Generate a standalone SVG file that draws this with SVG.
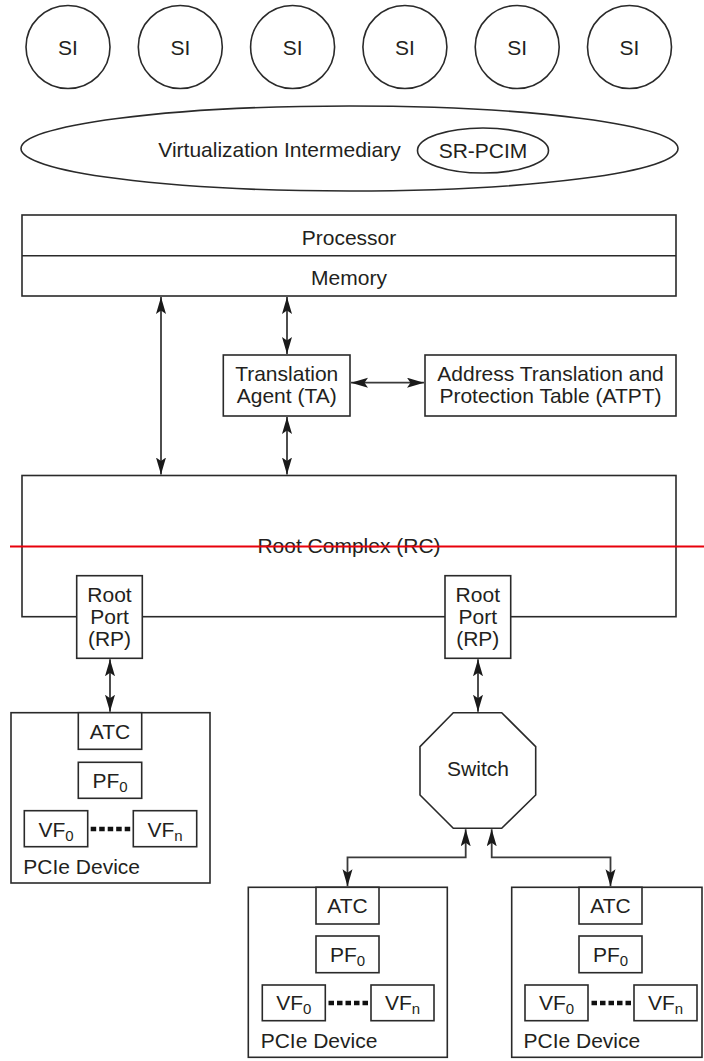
<svg xmlns="http://www.w3.org/2000/svg" width="704" height="1061" viewBox="0 0 704 1061">
<style>
  .s{fill:#fff;stroke:#2a2a2a;stroke-width:1.6}
  .t{font-family:"Liberation Sans",Arial,sans-serif;font-size:21px;fill:#231f20;text-anchor:middle}
  .l{text-anchor:start}
  .sub{font-size:15px}
  .c{fill:none;stroke:#3a3a3a;stroke-width:1.8}
  .dots{fill:none;stroke:#111;stroke-width:4.5;stroke-dasharray:5.5 3}
</style>
<defs>
  <marker id="ah" markerUnits="userSpaceOnUse" markerWidth="19" markerHeight="11" refX="17" refY="5" orient="auto-start-reverse">
    <path d="M0,0 L17,5 L0,10 L3.5,5 z" fill="#1a1a1a"/>
  </marker>
</defs>
<rect width="704" height="1061" fill="#fff"/>

<g id="si1"><ellipse class="s" cx="68" cy="47" rx="42" ry="41.5"/><text class="t" x="68" y="55">SI</text></g>
<g id="si2"><ellipse class="s" cx="180.3" cy="47" rx="42" ry="41.5"/><text class="t" x="180.3" y="55">SI</text></g>
<g id="si3"><ellipse class="s" cx="292.6" cy="47" rx="42" ry="41.5"/><text class="t" x="292.6" y="55">SI</text></g>
<g id="si4"><ellipse class="s" cx="404.9" cy="47" rx="42" ry="41.5"/><text class="t" x="404.9" y="55">SI</text></g>
<g id="si5"><ellipse class="s" cx="517.2" cy="47" rx="42" ry="41.5"/><text class="t" x="517.2" y="55">SI</text></g>
<g id="si6"><ellipse class="s" cx="629.5" cy="47" rx="42" ry="41.5"/><text class="t" x="629.5" y="55">SI</text></g>

<g id="vi">
  <ellipse class="s" cx="349.5" cy="148.5" rx="328.5" ry="42.5"/>
  <text class="t" x="279.5" y="156.5">Virtualization Intermediary</text>
</g>
<g id="srpcim">
  <ellipse class="s" cx="483" cy="150.5" rx="65.5" ry="22.5"/>
  <text class="t" x="483" y="157.5">SR-PCIM</text>
</g>

<g id="procmem">
  <rect class="s" x="22" y="215" width="654" height="81"/>
  <line class="s" x1="22" y1="255.7" x2="676" y2="255.7"/>
  <text class="t" x="349" y="244.5">Processor</text>
  <text class="t" x="349" y="284.5">Memory</text>
</g>

<g id="ta">
  <rect class="s" x="223.3" y="355" width="126.7" height="61"/>
  <text class="t" x="286.7" y="381">Translation</text>
  <text class="t" x="286.7" y="402.7">Agent (TA)</text>
</g>
<g id="atpt">
  <rect class="s" x="425" y="355" width="251" height="61"/>
  <text class="t" x="550.5" y="381">Address Translation and</text>
  <text class="t" x="550.5" y="403">Protection Table (ATPT)</text>
</g>

<g id="rc">
  <rect class="s" x="22" y="475.5" width="654" height="141.2"/>
  <text class="t" x="349" y="552.5">Root Complex (RC)</text>
</g>
<line x1="10" y1="546.5" x2="704" y2="546.5" stroke="#e8000b" stroke-width="2"/>

<g id="rp1">
  <rect class="s" x="76.7" y="575.7" width="65.6" height="82.6"/>
  <text class="t" x="109.5" y="601.5">Root</text>
  <text class="t" x="109.5" y="623.5">Port</text>
  <text class="t" x="109.5" y="645.5">(RP)</text>
</g>
<g id="rp2">
  <rect class="s" x="445" y="575.7" width="65.7" height="82.6"/>
  <text class="t" x="477.8" y="601.5">Root</text>
  <text class="t" x="477.8" y="623.5">Port</text>
  <text class="t" x="477.8" y="645.5">(RP)</text>
</g>

<g id="switch">
  <polygon class="s" points="453.3,712.7 501.7,712.7 535.7,746.7 535.7,795 501.7,828.3 453.3,828.3 420,795 420,746.7"/>
  <text class="t" x="478" y="776">Switch</text>
</g>

<g id="dev1">
  <rect class="s" x="11" y="712.7" width="199" height="170.3"/>
  <rect class="s" x="78.3" y="712.7" width="63.4" height="36.6"/>
  <text class="t" x="110" y="738.5">ATC</text>
  <rect class="s" x="78.3" y="762.3" width="63.4" height="36"/>
  <text class="t" x="110" y="788.3">PF<tspan class="sub" dy="4">0</tspan></text>
  <rect class="s" x="24.3" y="810.7" width="63.4" height="36"/>
  <text class="t" x="56" y="836.7">VF<tspan class="sub" dy="4">0</tspan></text>
  <rect class="s" x="133.3" y="810.7" width="63.4" height="36"/>
  <text class="t" x="165" y="836.7">VF<tspan class="sub" dy="4">n</tspan></text>
  <line class="dots" x1="90.7" y1="829" x2="130.2" y2="829"/>
  <text class="t l" x="23.3" y="873.5">PCIe Device</text>
</g>

<g id="dev2">
  <rect class="s" x="248.3" y="887.3" width="199" height="170"/>
  <rect class="s" x="316" y="887.3" width="63" height="36.7"/>
  <text class="t" x="347.5" y="913.2">ATC</text>
  <rect class="s" x="316" y="936" width="63" height="36.7"/>
  <text class="t" x="347.5" y="961.8">PF<tspan class="sub" dy="4">0</tspan></text>
  <rect class="s" x="262.3" y="985" width="63" height="35.7"/>
  <text class="t" x="293.8" y="1010.4">VF<tspan class="sub" dy="4">0</tspan></text>
  <rect class="s" x="371" y="985" width="63" height="35.7"/>
  <text class="t" x="402.5" y="1010.4">VF<tspan class="sub" dy="4">n</tspan></text>
  <line class="dots" x1="328.5" y1="1003" x2="368" y2="1003"/>
  <text class="t l" x="260.7" y="1048">PCIe Device</text>
</g>

<g id="dev3">
  <rect class="s" x="511.7" y="887.3" width="190.3" height="170"/>
  <rect class="s" x="579" y="887.3" width="63" height="36.7"/>
  <text class="t" x="610.5" y="913.2">ATC</text>
  <rect class="s" x="579" y="936" width="63" height="36.7"/>
  <text class="t" x="610.5" y="961.8">PF<tspan class="sub" dy="4">0</tspan></text>
  <rect class="s" x="525" y="985" width="63" height="35.7"/>
  <text class="t" x="556.5" y="1010.4">VF<tspan class="sub" dy="4">0</tspan></text>
  <rect class="s" x="634" y="985" width="63" height="35.7"/>
  <text class="t" x="665.5" y="1010.4">VF<tspan class="sub" dy="4">n</tspan></text>
  <line class="dots" x1="591.5" y1="1003" x2="631" y2="1003"/>
  <text class="t l" x="523.5" y="1048">PCIe Device</text>
</g>

<g id="connectors">
  <line class="c" x1="161" y1="297" x2="161" y2="474.5" marker-start="url(#ah)" marker-end="url(#ah)"/>
  <line class="c" x1="287" y1="297" x2="287" y2="354" marker-start="url(#ah)" marker-end="url(#ah)"/>
  <line class="c" x1="351" y1="382.7" x2="424" y2="382.7" marker-start="url(#ah)" marker-end="url(#ah)"/>
  <line class="c" x1="287" y1="417" x2="287" y2="474.5" marker-start="url(#ah)" marker-end="url(#ah)"/>
  <line class="c" x1="110" y1="659.3" x2="110" y2="711.7" marker-start="url(#ah)" marker-end="url(#ah)"/>
  <line class="c" x1="478" y1="659.3" x2="478" y2="711.7" marker-start="url(#ah)" marker-end="url(#ah)"/>
  <polyline class="c" points="465.7,829.3 465.7,857.3 347.5,857.3 347.5,886.3" marker-start="url(#ah)" marker-end="url(#ah)"/>
  <polyline class="c" points="491.7,829.3 491.7,857.3 610.5,857.3 610.5,886.3" marker-start="url(#ah)" marker-end="url(#ah)"/>
</g>
</svg>
